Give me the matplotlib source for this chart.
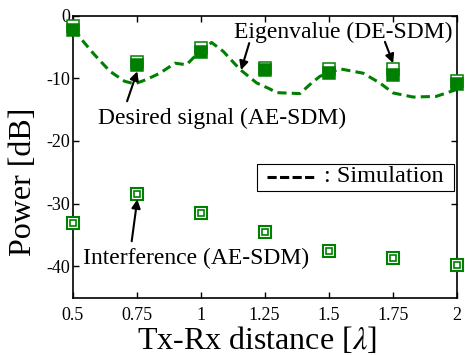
import numpy as np
import matplotlib.pyplot as plt
from matplotlib.lines import Line2D
from matplotlib.patches import Rectangle

plt.rcParams['font.family'] = ['Liberation Serif', 'DejaVu Serif']
plt.rcParams['mathtext.fontset'] = 'stix'
plt.rcParams['axes.unicode_minus'] = False

# Tx-Rx distance [lambda]
dist = [0.5, 0.75, 1.0, 1.25, 1.5, 1.75, 2.0]
# measured powers [dB]
desired = [-1.75, -7.4, -5.2, -8.35, -8.5, -8.6, -10.5]
eigen = [-2.35, -7.9, -5.75, -8.7, -9.2, -9.5, -11.0]
interf = [-33.1, -28.5, -31.5, -34.55, -37.6, -38.7, -39.8]

# simulation curve
sim_x = [0.509, 0.531, 0.58, 0.646, 0.704, 0.743, 0.789, 0.841, 0.90, 0.945,
         0.978, 1.043, 1.088, 1.154, 1.219, 1.27, 1.297, 1.388, 1.434, 1.466,
         1.544, 1.635, 1.70, 1.752, 1.83, 1.92, 2.0]
sim_y = [-2.0, -3.6, -6.0, -8.9, -10.5, -10.9, -10.2, -9.2, -7.6, -7.85,
         -6.5, -4.3, -5.7, -8.6, -10.75, -11.7, -12.3, -12.45, -10.75, -9.7,
         -8.5, -9.2, -10.75, -12.35, -13.0, -12.9, -11.8]

green = '#008000'

fig = plt.figure(figsize=(4.65, 3.55), dpi=100)
ax = fig.add_axes([0.156, 0.1614, 0.826, 0.7949])

ax.plot(sim_x, sim_y, color=green, lw=2.2, dashes=(3, 1.7), zorder=2)

ax.plot(dist, desired, 's', ms=8.6, mfc='white', mec=green, mew=1.1,
        zorder=3, clip_on=False)
ax.plot(dist, eigen, 's', ms=8.6, mfc=green, mec=green, mew=1.1,
        zorder=4, clip_on=False)

ax.plot(dist, interf, 's', ms=8.4, mfc='white', mec=green, mew=1.5,
        zorder=3, clip_on=False)
ax.plot(dist, interf, 's', ms=4.2, mfc='white', mec=green, mew=1.2,
        zorder=4, clip_on=False)

arrow = dict(arrowstyle='-|>', color='black', lw=1.5, mutation_scale=13,
             shrinkA=0, shrinkB=0)

ax.text(1.559, -3.62, 'Eigenvalue (DE-SDM)', fontsize=17, ha='center', va='baseline')
ax.annotate('', xy=(1.158, -8.7), xytext=(1.19, -4.4), arrowprops=arrow)
ax.annotate('', xy=(1.752, -7.6), xytext=(1.72, -4.2), arrowprops=arrow)

ax.text(1.082, -17.37, 'Desired signal (AE-SDM)', fontsize=17, ha='center', va='baseline')
ax.annotate('', xy=(0.753, -8.9), xytext=(0.713, -13.67), arrowprops=arrow)

ax.text(0.981, -39.57, 'Interference (AE-SDM)', fontsize=17, ha='center', va='baseline')
ax.annotate('', xy=(0.753, -29.3), xytext=(0.731, -36.0), arrowprops=arrow)

# legend box drawn by hand (axes fraction)
ax.add_patch(Rectangle((0.479, 0.379), 0.5135, 0.0948, transform=ax.transAxes,
                       fc='white', ec='black', lw=0.8, zorder=5))
ax.add_line(Line2D([0.505, 0.636], [0.4266, 0.4266], transform=ax.transAxes,
                   color='black', lw=2.2, dashes=(3.0, 1.1), zorder=6))
ax.text(0.655, 0.411, ': Simulation', transform=ax.transAxes, fontsize=17.5,
        ha='left', va='baseline', zorder=6)

ax.set_xlim(0.5, 2.0)
ax.set_ylim(-45, 0)
ax.set_xticks(dist)
ax.set_xticklabels(['0.5', '0.75', '1', '1.25', '1.5', '1.75', '2'])
ax.set_yticks([0, -10, -20, -30, -40])
ax.set_yticklabels(['0', '-10', '-20', '-30', '-40'])
ax.tick_params(direction='in', length=4, width=1, top=True, right=True,
               labelsize=13)
ax.tick_params(axis='x', pad=7)
ax.tick_params(axis='y', pad=2)
for s in ax.spines.values():
    s.set_linewidth(1.2)

ax.set_xlabel(r'Tx-Rx distance [$\lambda$]', fontsize=23, labelpad=0)
ax.set_ylabel('Power [dB]', fontsize=23, labelpad=0)
ax.xaxis.set_label_coords(0.479, -0.095)
ax.yaxis.set_label_coords(-0.0896, 0.41)

fig.savefig('out.png', dpi=100)
